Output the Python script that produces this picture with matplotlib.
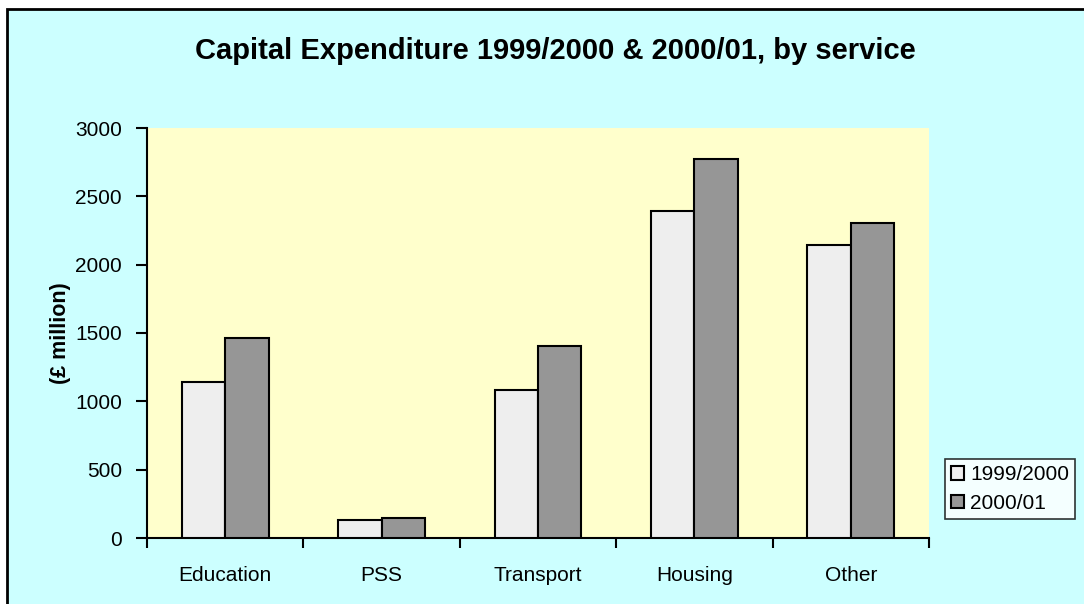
import matplotlib
matplotlib.use("Agg")
import matplotlib.pyplot as plt
from matplotlib.patches import Rectangle
import numpy as np

plt.rcParams['font.family'] = ['Liberation Sans', 'DejaVu Sans']

# data
services = ['Education', 'PSS', 'Transport', 'Housing', 'Other']
series_names = ['1999/2000', '2000/01']
spend_9900 = [1140, 130, 1085, 2395, 2145]
spend_0001 = [1460, 145, 1405, 2775, 2305]
colors = ['#EEEEEE', '#969696']

fig = plt.figure(figsize=(10.84, 6.04), dpi=100, facecolor='white')

# chart area background with border (top/left edges visible)
fig.patches.append(Rectangle((7 / 1084, -0.2), 1.3, 1 - 9 / 604 + 0.2,
                             transform=fig.transFigure, facecolor='#CCFFFF',
                             edgecolor='black', linewidth=2, zorder=-10))

ax = fig.add_axes([147 / 1084, 1 - 538 / 604, (929 - 147) / 1084, (538 - 128) / 604])
ax.set_facecolor('#FFFFCC')

x = np.arange(len(services)) + 0.5
w = 0.278
for i, (vals, name) in enumerate(zip([spend_9900, spend_0001], series_names)):
    ax.bar(x + (i - 0.5) * w, vals, width=w, color=colors[i],
           edgecolor='black', linewidth=1.5, label=name, zorder=3)

ax.set_xlim(0, len(services))
ax.set_ylim(0, 3000)
ax.set_yticks(range(0, 3001, 500))
ax.tick_params(axis='y', labelsize=15, length=8, width=1.5, direction='out', pad=10)

# category boundaries get the tick marks, labels sit in the middle
ax.set_xticks(range(len(services) + 1))
ax.set_xticklabels([])
ax.tick_params(axis='x', which='major', length=7, width=1.5, direction='out')
ax.set_xticks(x, minor=True)
ax.set_xticklabels(services, minor=True)
ax.tick_params(axis='x', which='minor', length=0, labelsize=15, pad=20)

for s in ['top', 'right']:
    ax.spines[s].set_visible(False)
for s in ['left', 'bottom']:
    ax.spines[s].set_linewidth(1.5)

ax.set_ylabel('(£ million)', fontsize=15.5, fontweight='bold', labelpad=3)

fig.text(555 / 1084, 1 - 51 / 604, 'Capital Expenditure 1999/2000 & 2000/01, by service',
         ha='center', va='center', fontsize=21, fontweight='bold')

leg = ax.legend(loc='upper left', bbox_to_anchor=(945 / 1084, 1 - 459 / 604),
                bbox_transform=fig.transFigure, fontsize=15, frameon=True,
                fancybox=False, shadow=False, handlelength=0.6, handleheight=0.6,
                handletextpad=0.3, borderpad=0.3, labelspacing=0.45, borderaxespad=0)
leg.get_frame().set_edgecolor('black')
leg.get_frame().set_linewidth(1.2)
leg.get_frame().set_facecolor('white')

plt.savefig('out.png', dpi=100, facecolor=fig.get_facecolor())
